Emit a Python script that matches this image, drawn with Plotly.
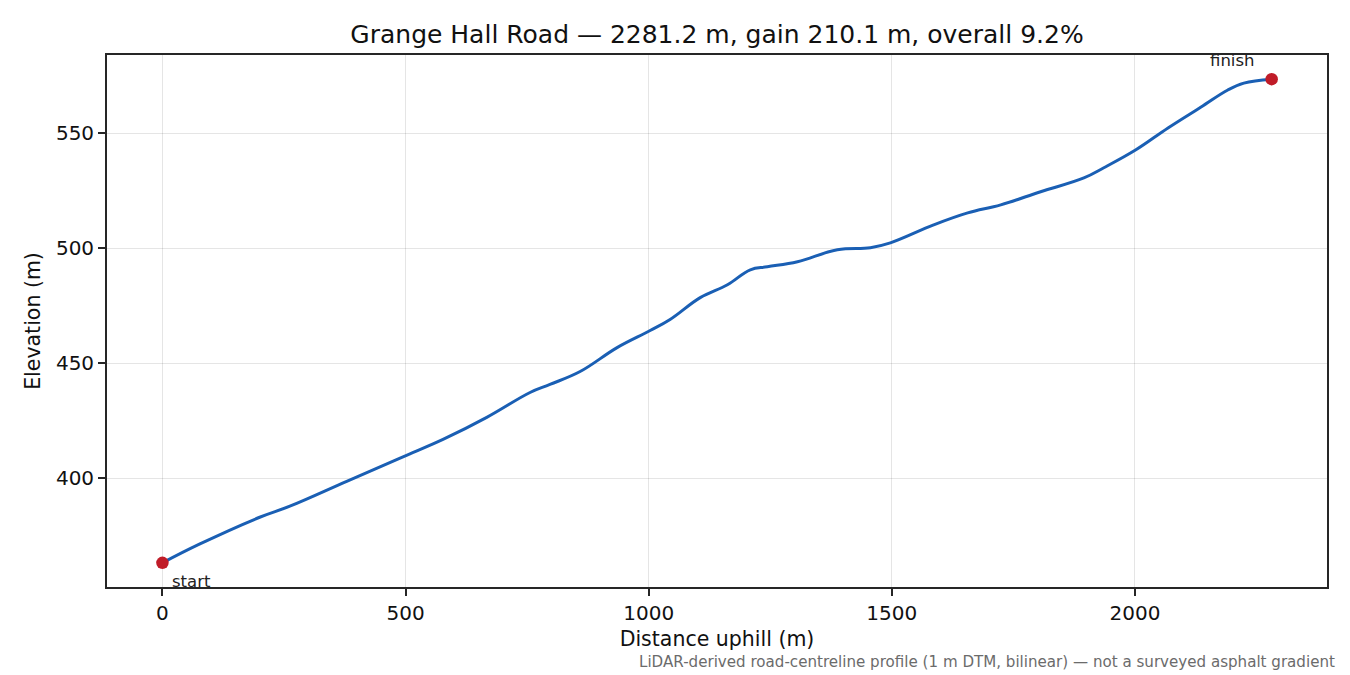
import plotly.graph_objects as go

# profile
distance_m = [0, 76, 200, 262, 379, 502, 577, 667, 756, 797, 859, 935, 1003, 1044,
              1106, 1162, 1209, 1244, 1306, 1388, 1456, 1497, 1586, 1656, 1724,
              1806, 1895, 1936, 2002, 2068, 2136, 2191, 2224, 2281.2]
elevation_m = [363.3, 371.4, 383.1, 387.9, 398.7, 410.0, 416.9, 426.5, 437.3, 440.8,
               446.4, 456.8, 464.2, 469.0, 478.5, 484.1, 490.6, 491.9, 494.1, 499.3,
               500.2, 502.3, 510.1, 515.3, 518.8, 524.5, 530.5, 534.9, 542.7, 552.2,
               561.3, 568.7, 571.7, 573.4]

x_ticks = [0, 500, 1000, 1500, 2000]
y_ticks = [400, 450, 500, 550]

title = "Grange Hall Road — 2281.2 m, gain 210.1 m, overall 9.2%"
note = "LiDAR-derived road-centreline profile (1 m DTM, bilinear) — not a surveyed asphalt gradient"

font = "DejaVu Sans"

fig = go.Figure()
fig.add_trace(go.Scatter(x=distance_m, y=elevation_m, mode="lines",
                         line=dict(color="#1a5fb4", width=3, shape="spline", smoothing=1.1),
                         hoverinfo="x+y", showlegend=False))
fig.add_trace(go.Scatter(x=[distance_m[0], distance_m[-1]], y=[elevation_m[0], elevation_m[-1]],
                         mode="markers", marker=dict(color="#c01c28", size=12.5),
                         showlegend=False))

fig.add_annotation(x=distance_m[0], y=elevation_m[0], text="start", showarrow=False,
                   xanchor="left", yanchor="top", xshift=8, yshift=-7,
                   font=dict(family=font, size=16.5, color="#222"))
fig.add_annotation(x=distance_m[-1], y=elevation_m[-1], text="finish", showarrow=False,
                   xanchor="right", yanchor="bottom", xshift=-15, yshift=7,
                   font=dict(family=font, size=16.5, color="#222"))
fig.add_annotation(x=1, y=0, xref="paper", yref="paper", text=note, showarrow=False,
                   xanchor="right", yanchor="top", xshift=10, yshift=-64,
                   font=dict(family=font, size=15.1, color="#6b6b6b"))

axis_common = dict(showline=True, linecolor="#262626", linewidth=1.8, mirror=True,
                   ticks="outside", ticklen=7, tickcolor="#262626", tickwidth=1.6,
                   showgrid=True, gridcolor="rgba(0,0,0,0.1)", gridwidth=1.3,
                   zeroline=False, tickfont=dict(family=font, size=20, color="#111"))

fig.update_layout(
    width=1350, height=675,
    margin=dict(l=99, r=31, t=47, b=96),
    paper_bgcolor="white", plot_bgcolor="white",
    title=dict(text=title, x=0.5, xanchor="center", y=0.9615, yanchor="middle",
               xref="paper", font=dict(family=font, size=25, color="#111")),
    xaxis=dict(range=[-114, 2395], tickvals=x_ticks,
               title=dict(text="Distance uphill (m)", standoff=8,
                          font=dict(family=font, size=20.5, color="#111")),
               **axis_common),
    yaxis=dict(range=[352.8, 583.9], tickvals=y_ticks,
               title=dict(text="Elevation (m)", standoff=10,
                          font=dict(family=font, size=20.5, color="#111")),
               **axis_common),
)

fig.write_html("out.html")
